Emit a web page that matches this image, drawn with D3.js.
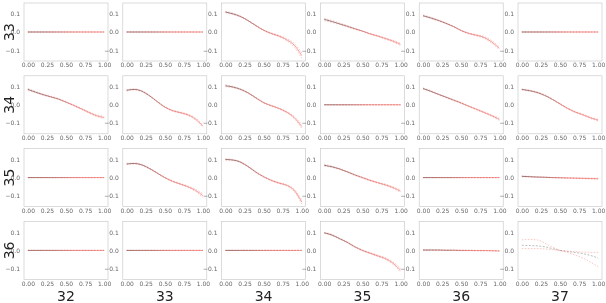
<!DOCTYPE html>
<html>
<head>
<meta charset="utf-8">
<script src="https://cdn.jsdelivr.net/npm/d3@7"></script>
<style>
  body { margin: 0; background: #fff; }
  svg { will-change: transform; }
  text { font-family: "DejaVu Sans", sans-serif; }
</style>
</head>
<body>
<div id="main"></div>
<script>
// grid variables (rows / columns of the pairs plot)
const rowVars = ['33', '34', '35', '36'];
const colVars = ['32', '33', '34', '35', '36', '37'];

const xGrid = [0, 0.1, 0.2, 0.3, 0.4, 0.5, 0.6, 0.7, 0.8, 0.9, 1.0];
const xTicks = [0, 0.25, 0.5, 0.75, 1];
const yTicks = [-0.1, 0, 0.1];

const flat = [0, 0, 0, 0, 0, 0, 0, 0, 0, 0, 0];

// mean curve (dark) and two red dashed curves for each panel, one array per row
const mean33 = [flat, flat,
  [0.11, 0.10, 0.085, 0.062, 0.035, 0.01, -0.008, -0.022, -0.042, -0.072, -0.13],
  [0.07, 0.058, 0.045, 0.032, 0.018, 0.005, -0.01, -0.022, -0.036, -0.05, -0.068],
  [0.09, 0.078, 0.064, 0.048, 0.03, 0.008, -0.008, -0.018, -0.03, -0.055, -0.09],
  flat];
const redA33 = [flat, flat,
  [0.114, 0.104, 0.088, 0.065, 0.038, 0.012, -0.005, -0.018, -0.036, -0.062, -0.115],
  [0.075, 0.064, 0.05, 0.036, 0.021, 0.007, -0.007, -0.019, -0.032, -0.045, -0.062],
  [0.094, 0.082, 0.067, 0.05, 0.032, 0.01, -0.005, -0.014, -0.025, -0.047, -0.082],
  flat];
const redB33 = [flat, flat,
  [0.106, 0.096, 0.082, 0.059, 0.032, 0.008, -0.011, -0.026, -0.048, -0.082, -0.145],
  [0.062, 0.053, 0.041, 0.028, 0.015, 0.003, -0.013, -0.025, -0.04, -0.055, -0.075],
  [0.086, 0.074, 0.061, 0.046, 0.028, 0.006, -0.011, -0.022, -0.035, -0.062, -0.098],
  flat];

const mean34 = [
  [0.085, 0.07, 0.056, 0.044, 0.032, 0.015, -0.003, -0.022, -0.042, -0.06, -0.07],
  [0.08, 0.085, 0.075, 0.05, 0.018, -0.012, -0.032, -0.043, -0.055, -0.078, -0.118],
  [0.105, 0.098, 0.085, 0.065, 0.038, 0.012, -0.005, -0.02, -0.04, -0.07, -0.12],
  flat,
  [0.09, 0.075, 0.058, 0.042, 0.026, 0.01, -0.008, -0.025, -0.042, -0.06, -0.08],
  [0.085, 0.078, 0.068, 0.052, 0.03, 0.005, -0.02, -0.04, -0.055, -0.072, -0.085]];
const redA34 = [
  [0.09, 0.074, 0.059, 0.047, 0.035, 0.018, 0.0, -0.019, -0.038, -0.055, -0.063],
  [0.084, 0.088, 0.078, 0.053, 0.021, -0.009, -0.029, -0.04, -0.051, -0.072, -0.11],
  [0.11, 0.102, 0.088, 0.068, 0.041, 0.015, -0.002, -0.017, -0.036, -0.064, -0.11],
  flat,
  [0.094, 0.078, 0.061, 0.045, 0.029, 0.013, -0.005, -0.022, -0.038, -0.056, -0.074],
  [0.088, 0.081, 0.071, 0.055, 0.033, 0.008, -0.017, -0.037, -0.051, -0.068, -0.08]];
const redB34 = [
  [0.08, 0.066, 0.053, 0.041, 0.029, 0.012, -0.006, -0.025, -0.046, -0.065, -0.075],
  [0.076, 0.082, 0.072, 0.047, 0.015, -0.015, -0.035, -0.046, -0.059, -0.084, -0.125],
  [0.1, 0.094, 0.082, 0.062, 0.035, 0.009, -0.008, -0.023, -0.044, -0.076, -0.13],
  flat,
  [0.086, 0.072, 0.055, 0.039, 0.023, 0.007, -0.011, -0.028, -0.046, -0.064, -0.086],
  [0.082, 0.075, 0.065, 0.049, 0.027, 0.002, -0.023, -0.043, -0.059, -0.076, -0.09]];

const mean35 = [flat,
  [0.075, 0.078, 0.07, 0.05, 0.025, 0.0, -0.02, -0.035, -0.05, -0.07, -0.1],
  [0.1, 0.097, 0.085, 0.06, 0.03, 0.005, -0.015, -0.03, -0.042, -0.07, -0.135],
  [0.068, 0.06, 0.048, 0.032, 0.015, 0.0, -0.015, -0.028, -0.04, -0.055, -0.075],
  flat,
  [0.007, 0.005, 0.003, 0.002, 0.0, -0.001, -0.002, -0.003, -0.004, -0.005, -0.006]];
const redA35 = [flat,
  [0.079, 0.081, 0.073, 0.053, 0.028, 0.003, -0.017, -0.032, -0.046, -0.064, -0.09],
  [0.104, 0.1, 0.088, 0.063, 0.033, 0.008, -0.012, -0.027, -0.038, -0.064, -0.122],
  [0.074, 0.064, 0.051, 0.035, 0.018, 0.003, -0.012, -0.025, -0.036, -0.05, -0.068],
  flat,
  [0.01, 0.007, 0.004, 0.003, 0.001, 0.0, 0.0, -0.001, -0.002, -0.003, -0.003]];
const redB35 = [flat,
  [0.071, 0.075, 0.067, 0.047, 0.022, -0.003, -0.023, -0.038, -0.054, -0.076, -0.11],
  [0.096, 0.094, 0.082, 0.057, 0.027, 0.002, -0.018, -0.033, -0.046, -0.076, -0.145],
  [0.064, 0.056, 0.045, 0.029, 0.012, -0.003, -0.018, -0.031, -0.044, -0.06, -0.082],
  flat,
  [0.004, 0.003, 0.002, 0.001, -0.001, -0.002, -0.004, -0.005, -0.006, -0.008, -0.009]];

const mean36 = [flat, flat, flat,
  [0.097, 0.085, 0.065, 0.045, 0.02, 0.0, -0.015, -0.03, -0.045, -0.07, -0.11],
  [0.002, 0.002, 0.002, 0.001, 0.001, 0.0, 0.0, -0.001, -0.001, -0.002, -0.003],
  [0.028, 0.027, 0.025, 0.02, 0.01, 0.0, -0.006, -0.012, -0.018, -0.028, -0.042]];
const redA36 = [flat, flat, flat,
  [0.1, 0.088, 0.068, 0.048, 0.023, 0.003, -0.012, -0.026, -0.04, -0.063, -0.1],
  [0.004, 0.004, 0.003, 0.002, 0.002, 0.001, 0.001, 0.0, 0.0, -0.001, -0.001],
  [0.058, 0.06, 0.058, 0.04, 0.018, 0.0, -0.012, -0.026, -0.042, -0.065, -0.09]];
const redB36 = [flat, flat, flat,
  [0.094, 0.082, 0.062, 0.042, 0.017, -0.003, -0.018, -0.034, -0.05, -0.077, -0.12],
  [0.0, 0.0, 0.0, 0.0, 0.0, -0.001, -0.001, -0.002, -0.002, -0.003, -0.005],
  [0.01, 0.01, 0.01, 0.008, 0.004, 0.0, -0.004, -0.007, -0.009, -0.011, -0.012]];

const meanRows = [mean33, mean34, mean35, mean36];
const redARows = [redA33, redA34, redA35, redA36];
const redBRows = [redB33, redB34, redB35, redB36];

// layout
const width = 606, height = 303;
const panelW = 84, panelH = 58;
const colStep = 98.8, rowStep = 72.8;
const left0 = 24, top0 = 3;

const x = d3.scaleLinear().domain([-0.05, 1.05]).range([0, panelW]);
const y = d3.scaleLinear().domain([-0.16, 0.16]).range([panelH, 0]);

const line = d3.line()
    .x((d, i) => x(xGrid[i]))
    .y(d => y(d))
    .curve(d3.curveMonotoneX);

let svg = d3.select('#main')
    .append('svg')
        .attr('width', width)
        .attr('height', height);

// gradient for the mean line: dark on the left, fading to red
let grad = svg.append('defs').append('linearGradient')
    .attr('id', 'meanGrad')
    .attr('gradientUnits', 'userSpaceOnUse')
    .attr('x1', 0).attr('x2', panelW).attr('y1', 0).attr('y2', 0);
grad.append('stop').attr('offset', '0%').attr('stop-color', '#2a1414');
grad.append('stop').attr('offset', '35%').attr('stop-color', '#6a2222');
grad.append('stop').attr('offset', '60%').attr('stop-color', '#d84440');
grad.append('stop').attr('offset', '100%').attr('stop-color', '#ee5a54');

rowVars.forEach((rv, i) => {
    colVars.forEach((cv, j) => {
        let g = svg.append('g')
            .attr('transform', `translate(${left0 + j * colStep},${top0 + i * rowStep})`);

        // panel frame (very light)
        g.append('rect')
            .attr('x', 0).attr('y', 0)
            .attr('width', panelW).attr('height', panelH)
            .attr('fill', 'none')
            .attr('stroke', '#c4c4c4')
            .attr('stroke-width', 0.6);

        // y axis labels
        let yAxis = d3.axisLeft(y).tickValues(yTicks).tickSize(0).tickPadding(4)
            .tickFormat(d3.format('.1f'));
        g.append('g').call(yAxis)
            .call(a => a.select('.domain').remove())
            .selectAll('text')
                .attr('font-size', 6)
                .attr('fill', '#666');

        // x axis labels
        let xAxis = d3.axisBottom(x).tickValues(xTicks).tickSize(0).tickPadding(2)
            .tickFormat(d3.format('.2f'));
        g.append('g').attr('transform', `translate(0,${panelH})`).call(xAxis)
            .call(a => a.select('.domain').remove())
            .selectAll('text')
                .attr('font-size', 6)
                .attr('fill', '#666');

        let m = meanRows[i][j], a = redARows[i][j], b = redBRows[i][j];
        let spread = d3.max(m, (v, k) => Math.max(Math.abs(a[k] - v), Math.abs(b[k] - v)));
        let wide = spread > 0.02;

        // mean line
        g.append('path')
            .datum(m)
            .attr('d', line)
            .attr('fill', 'none')
            .attr('stroke', wide ? '#888' : 'url(#meanGrad)')
            .attr('stroke-width', 0.7)
            .attr('stroke-dasharray', wide ? '2,1.5' : null)
            .attr('opacity', 0.8);

        // red dashed lines
        [a, b].forEach(s => {
            g.append('path')
                .datum(s)
                .attr('d', line)
                .attr('fill', 'none')
                .attr('stroke', '#ee4640')
                .attr('stroke-width', 0.6)
                .attr('stroke-dasharray', '1.6,1.4')
                .attr('opacity', 0.5);
        });
    });

    // row label
    let cy = top0 + i * rowStep + panelH / 2;
    svg.append('text')
        .attr('transform', `translate(14,${cy}) rotate(-90)`)
        .attr('text-anchor', 'middle')
        .attr('font-size', 14)
        .attr('fill', '#222')
        .text(rv);
});

// column labels
colVars.forEach((cv, j) => {
    svg.append('text')
        .attr('x', left0 + j * colStep + x(0.5))
        .attr('y', 301)
        .attr('text-anchor', 'middle')
        .attr('font-size', 14)
        .attr('fill', '#222')
        .text(cv);
});
</script>
</body>
</html>
